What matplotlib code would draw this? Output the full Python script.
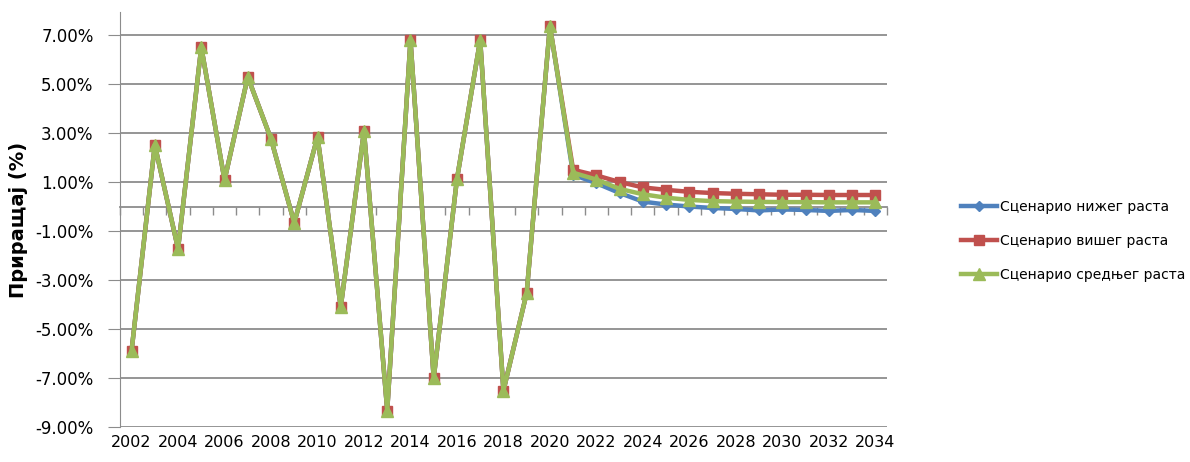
import numpy as np
import matplotlib
matplotlib.use("Agg")
import matplotlib.pyplot as plt
from matplotlib.ticker import FuncFormatter

years = list(range(2002, 2035))

# common history 2002-2020 (%)
history = [-5.89, 2.51, -1.73, 6.51, 1.08, 5.29, 2.76, -0.67, 2.84, -4.10,
           3.08, -8.33, 6.80, -7.01, 1.12, 6.80, -7.52, -3.53, 7.37]

# scenarios 2021-2034 (%)
low_tail = [1.30, 0.95, 0.55, 0.20, 0.08, 0.00, -0.06, -0.10, -0.16, -0.12,
            -0.14, -0.18, -0.14, -0.18]
high_tail = [1.50, 1.27, 1.00, 0.78, 0.68, 0.60, 0.55, 0.52, 0.50, 0.48,
             0.48, 0.47, 0.47, 0.47]
mid_tail = [1.38, 1.10, 0.72, 0.50, 0.36, 0.27, 0.22, 0.20, 0.19, 0.18,
            0.18, 0.17, 0.17, 0.17]

labels = ["Сценарио нижег раста", "Сценарио вишег раста", "Сценарио средњег раста"]
colors = ["#4F81BD", "#C0504D", "#9BBB59"]
yticks = [-9, -7, -5, -3, -1, 1, 3, 5, 7]
ymin, ymax = -9, 7.94
grey = "#8c8c8c"


def main():
    series = [history + low_tail, history + high_tail, history + mid_tail]
    markers = ["D", "s", "^"]
    msizes = [5, 7.5, 8.5]
    x = np.arange(len(years))

    fig = plt.figure(figsize=(11.9, 4.62), dpi=100)
    ax = fig.add_axes([0.1008, 0.0758, 0.6445, 0.8982])

    for vals, lab, col, mk, ms in zip(series, labels, colors, markers, msizes):
        ax.plot(x, vals, color=col, lw=3.2, marker=mk, ms=ms, label=lab,
                markeredgecolor=col)

    ax.set_xlim(-0.5, len(years) - 0.5)
    ax.set_ylim(ymin, ymax)
    ax.set_yticks(yticks)
    ax.yaxis.set_major_formatter(FuncFormatter(lambda v, p: f"{v:.2f}%"))
    ax.grid(axis="y", color=grey, lw=1.3)
    ax.set_axisbelow(True)

    for s in ["top", "right", "bottom"]:
        ax.spines[s].set_visible(False)
    ax.spines["left"].set_color(grey)
    ax.tick_params(axis="y", length=9, color=grey, labelsize=12, pad=10)

    # year labels at the bottom, every other year
    ax.set_xticks(x[::2])
    ax.set_xticklabels([str(y) for y in years[::2]], fontsize=11.5)
    ax.tick_params(axis="x", length=0, pad=6)

    # category axis line at zero with boundary ticks
    frac = (0 - ymin) / (ymax - ymin)
    sec = ax.secondary_xaxis(frac)
    sec.set_alignment("bottom")
    sec.set_xticks(np.arange(len(years) + 1) - 0.5)
    sec.set_xticklabels([])
    sec.tick_params(axis="x", length=6, color=grey, width=1, direction="out")
    sec.spines["top"].set_visible(False)
    sec.spines["bottom"].set_color(grey)
    sec.spines["bottom"].set_linewidth(1.3)
    sec.set_zorder(0.5)

    ax.set_ylabel("Приращај (%)", fontsize=14, fontweight="bold", labelpad=5)

    fig.legend(loc="center left", bbox_to_anchor=(0.797, 0.478), frameon=False,
               fontsize=10, handlelength=2.6, labelspacing=1.45, handletextpad=0.2)

    fig.savefig("out.png", dpi=100)


if __name__ == '__main__':
    main()
